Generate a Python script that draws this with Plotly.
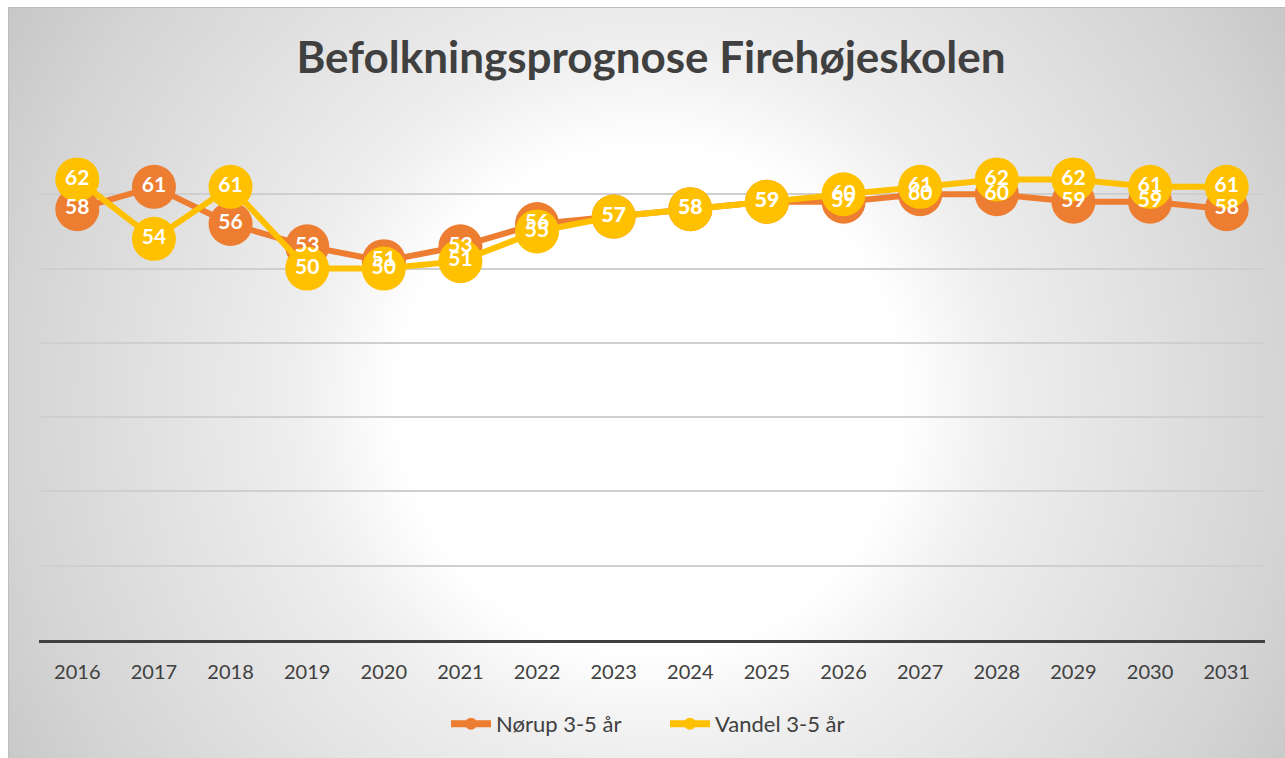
import base64
import plotly.graph_objects as go

# ---- data ----
years = ["2016", "2017", "2018", "2019", "2020", "2021", "2022", "2023",
         "2024", "2025", "2026", "2027", "2028", "2029", "2030", "2031"]
norup = [58, 61, 56, 53, 51, 53, 56, 57, 58, 59, 59, 60, 60, 59, 59, 58]
vandel = [62, 54, 61, 50, 50, 51, 55, 57, 58, 59, 60, 61, 62, 62, 61, 61]
series_names = ["Nørup 3-5 år", "Vandel 3-5 år"]
title_text = "Befolkningsprognose Firehøjeskolen"

# ---- styling ----
W, H = 1285, 758
PL, PR, PT, PB = 39, 1265, 120, 640   # plot area in pixels
ORANGE = "#ED7D31"
YELLOW = "#FFC000"
DARK = "#404040"
FONT = "Lato, 'Open Sans', sans-serif"

pw = PR - PL
ph = PB - PT

def px_x(v):
    return (v - PL) / pw

def px_y(v):
    return (PB - v) / ph

# background: radial gradient with thin grey frame
fx0, fy0 = 8, 7
fw, fh = W - fx0, H - fy0
cx, cy = 650 - fx0, 400 - fy0
svg = f'''<svg xmlns="http://www.w3.org/2000/svg" width="{fw}" height="{fh}" viewBox="0 0 {fw} {fh}" preserveAspectRatio="none">
<defs><radialGradient id="g" gradientUnits="userSpaceOnUse" cx="{cx}" cy="{cy}" r="760">
<stop offset="0" stop-color="#ffffff"/>
<stop offset="0.33" stop-color="#ffffff"/>
<stop offset="0.47" stop-color="#eeeeee"/>
<stop offset="0.845" stop-color="#d4d4d4"/>
<stop offset="1" stop-color="#c6c6c6"/>
</radialGradient></defs>
<rect x="0.5" y="0.5" width="{fw}" height="{fh}" fill="url(#g)" stroke="#bdbdbd" stroke-width="1"/>
</svg>'''
src = "data:image/svg+xml;base64," + base64.b64encode(svg.encode("utf-8")).decode("ascii")

fig = go.Figure()

fig.add_trace(go.Scatter(
    x=years, y=norup, mode="lines+markers", name=series_names[0],
    line=dict(color=ORANGE, width=6),
    marker=dict(color=ORANGE, size=44),
    showlegend=False, hoverinfo="skip"))
fig.add_trace(go.Scatter(
    x=years, y=vandel, mode="lines+markers", name=series_names[1],
    line=dict(color=YELLOW, width=6),
    marker=dict(color=YELLOW, size=44),
    showlegend=False, hoverinfo="skip"))

# data labels on top of all markers
for vals in (norup, vandel):
    fig.add_trace(go.Scatter(
        x=years, y=vals, mode="text", text=[str(v) for v in vals],
        textposition="middle center",
        textfont=dict(color="white", size=21, family=FONT, weight="bold"),
        showlegend=False, hoverinfo="skip"))

# legend entries
for name, col in zip(series_names, (ORANGE, YELLOW)):
    fig.add_trace(go.Scatter(
        x=[None], y=[None], mode="lines+markers", name=name,
        line=dict(color=col, width=7),
        marker=dict(color=col, size=12)))

fig.update_layout(
    width=W, height=H,
    margin=dict(l=PL, r=W - PR, t=PT, b=H - PB, pad=0),
    paper_bgcolor="white",
    plot_bgcolor="rgba(0,0,0,0)",
    font=dict(family=FONT, color=DARK),
    title=dict(text=title_text, x=px_x(651), xref="paper", xanchor="center",
               y=1 - 58 / H, yref="container", yanchor="middle",
               font=dict(size=44, color=DARK, family=FONT, weight="bold")),
    xaxis=dict(type="category", range=[-0.5, 15.5], showgrid=False,
               showline=True, linecolor=DARK, linewidth=3,
               ticks="", ticklabelstandoff=12,
               tickfont=dict(size=20, color=DARK, family=FONT),
               zeroline=False, fixedrange=True),
    yaxis=dict(range=[0, 70], dtick=10, showgrid=True, gridcolor="#cfcfcf",
               gridwidth=1.5, showticklabels=False, zeroline=False,
               showline=False, fixedrange=True),
    legend=dict(orientation="h", x=px_x(665), xanchor="center",
                y=px_y(724), yanchor="middle",
                font=dict(size=22, color=DARK, family=FONT),
                bgcolor="rgba(0,0,0,0)", itemwidth=40, tracegroupgap=0,
                entrywidth=164, entrywidthmode="pixels"),
    showlegend=True,
    images=[dict(source=src, xref="paper", yref="paper",
                 x=px_x(fx0), y=px_y(fy0), sizex=fw / pw, sizey=fh / ph,
                 xanchor="left", yanchor="top", sizing="stretch",
                 layer="below")],
)

fig.write_html("out.html")
